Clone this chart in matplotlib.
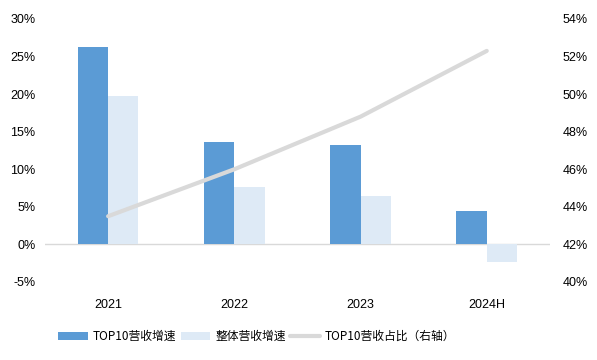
import numpy as np
import matplotlib.pyplot as plt
from matplotlib.ticker import FuncFormatter

plt.rcParams['font.family'] = ['Liberation Sans', 'Noto Sans CJK SC', 'DejaVu Sans']

years = ['2021', '2022', '2023', '2024H']
top10_growth = [26.3, 13.6, 13.2, 4.5]
total_growth = [19.7, 7.6, 6.5, -2.3]
top10_share = [43.5, 46.0, 48.8, 52.3]

fig = plt.figure(figsize=(5.97, 3.6), dpi=100)
ax = fig.add_axes([0.0754, 0.2167, 0.8456, 0.7306])
ax2 = ax.twinx()

x = np.arange(len(years))
w = 0.24
b1 = ax.bar(x - w / 2, top10_growth, w, color='#5B9BD5', label='TOP10营收增速', zorder=2)
b2 = ax.bar(x + w / 2, total_growth, w, color='#DEEAF6', label='整体营收增速', zorder=2)
ax.axhline(0, color='#D9D9D9', lw=1, zorder=1)

l1, = ax2.plot(x, top10_share, color='#D9D9D9', lw=3, label='TOP10营收占比（右轴）',
               solid_capstyle='round')

ax.set_xlim(-0.5, 3.5)
ax.set_ylim(-5, 30)
ax.set_yticks(np.arange(-5, 31, 5))
ax2.set_ylim(40, 54)
ax2.set_yticks(np.arange(40, 55, 2))
fmt = FuncFormatter(lambda v, p: f'{v:.0f}%')
ax.yaxis.set_major_formatter(fmt)
ax2.yaxis.set_major_formatter(fmt)
ax.set_xticks(x)
ax.set_xticklabels(years)

for a in (ax, ax2):
    for s in a.spines.values():
        s.set_visible(False)
    a.tick_params(length=0, labelsize=9, colors='black')
ax.tick_params(axis='y', pad=7)
ax2.tick_params(axis='y', pad=9)
ax.tick_params(axis='x', pad=12)

fig.legend(handles=[b1, b2, l1], loc='center', bbox_to_anchor=(0.43, 0.065), ncol=3,
           frameon=False, handlelength=2.5, handletextpad=0.4,
           columnspacing=0.4, prop={'family': ['Noto Sans CJK SC'], 'size': 8.5})

fig.savefig('out.png', dpi=100)
